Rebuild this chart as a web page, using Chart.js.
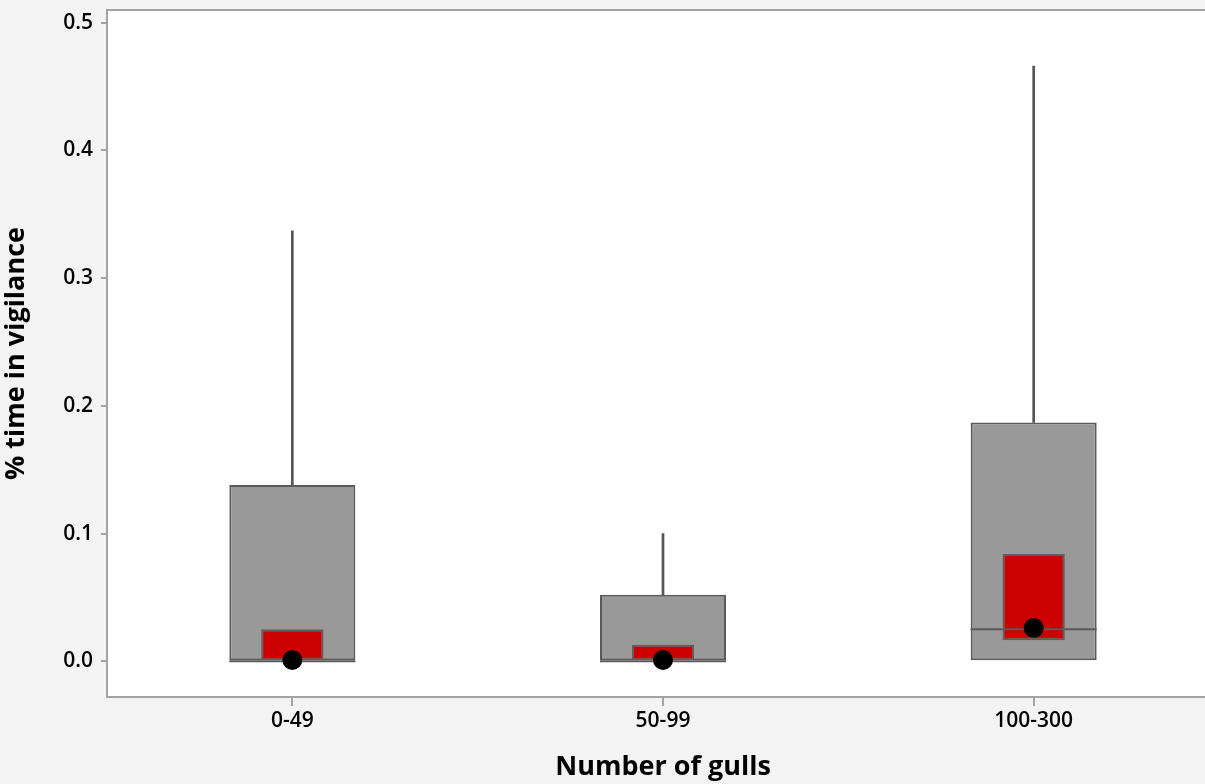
<!DOCTYPE html>
<html>
<head>
<meta charset="utf-8">
<script src="https://cdn.jsdelivr.net/npm/chart.js@4"></script>
<style>
  html, body { margin: 0; padding: 0; background: #f3f3f3; overflow: hidden; }
  #wrap { width: 1229px; height: 784px; }
</style>
</head>
<body>
<div id="wrap"><canvas id="c" width="1229" height="784"></canvas></div>
<script>
'use strict';

/* ── data ── */
var groups  = ['0-49', '50-99', '100-300'];
var q1      = [0.0,   0.0,   0.0];
var q3      = [0.138, 0.052, 0.187];
var maxV    = [0.337, 0.100, 0.466];
var medians = [0.0,   0.0,   0.025];
var ciLow   = [0.0,   0.0,   0.0165];
var ciHigh  = [0.025, 0.013, 0.084];
var means   = [0.001, 0.001, 0.026];
var yTicks  = [0.0, 0.1, 0.2, 0.3, 0.4, 0.5];

var TICK_FONT  = { family: '"Open Sans", sans-serif', size: 21, weight: '600' };
var TITLE_FONT = { family: '"Open Sans", sans-serif', size: 27, weight: 'bold' };

/* white plot area + grey frame */
var framePlugin = {
  id: 'frame',
  beforeDatasetsDraw: function(chart){
    var a = chart.chartArea, ctx = chart.ctx;
    ctx.save();
    ctx.fillStyle = '#ffffff';
    ctx.fillRect(a.left, a.top, a.right - a.left, a.bottom - a.top);
    ctx.restore();
  },
  afterDraw: function(chart){
    var a = chart.chartArea, ctx = chart.ctx;
    ctx.save();
    ctx.strokeStyle = '#a3a3a3';
    ctx.lineWidth = 2;
    ctx.strokeRect(a.left, a.top, a.right - a.left, a.bottom - a.top);
    ctx.restore();
  }
};

/* median lines, drawn just under the dots */
var medianPlugin = {
  id: 'medians',
  beforeDatasetDraw: function(chart, args){
    if(args.index !== 3) return;
    var ctx = chart.ctx, y = chart.scales.y, boxes = chart.getDatasetMeta(0).data;
    ctx.save();
    ctx.strokeStyle = '#5a5a5a';
    ctx.lineWidth = 2;
    medians.forEach(function(m, i){
      var b = boxes[i], py = y.getPixelForValue(m);
      ctx.beginPath();
      ctx.moveTo(b.x - b.width / 2, py);
      ctx.lineTo(b.x + b.width / 2, py);
      ctx.stroke();
    });
    ctx.restore();
  }
};

new Chart(document.getElementById('c'), {
  type: 'bar',
  data: {
    labels: groups,
    datasets: [
      {
        label: 'IQR',
        data: q1.map(function(v, i){ return [v, q3[i]]; }),
        backgroundColor: '#999999',
        borderColor: '#5a5a5a',
        borderWidth: 2,
        borderSkipped: false,
        barPercentage: 0.34,
        categoryPercentage: 1,
        grouped: false,
        order: 4
      },
      {
        label: 'whisker',
        data: q3.map(function(v, i){ return [v, maxV[i]]; }),
        backgroundColor: '#555555',
        borderWidth: 0,
        barThickness: 2,
        grouped: false,
        order: 5
      },
      {
        label: 'median CI',
        data: ciLow.map(function(v, i){ return [v, ciHigh[i]]; }),
        backgroundColor: '#cc0000',
        borderColor: '#5f5f5f',
        borderWidth: 2,
        borderSkipped: false,
        barPercentage: 0.168,
        categoryPercentage: 1,
        grouped: false,
        order: 2
      },
      {
        type: 'line',
        label: 'mean',
        data: means,
        showLine: false,
        pointRadius: 10,
        pointBackgroundColor: '#000000',
        pointBorderWidth: 0,
        order: 0
      }
    ]
  },
  options: {
    responsive: false,
    animation: false,
    events: [],
    layout: { padding: { top: 10, right: 3, left: 0, bottom: 0 } },
    plugins: { legend: { display: false }, tooltip: { enabled: false } },
    scales: {
      x: {
        type: 'category',
        offset: true,
        grid: { offset: false, drawOnChartArea: false, drawTicks: true, tickLength: 9, color: '#a3a3a3', lineWidth: 2 },
        border: { display: false },
        ticks: { color: '#000', font: TICK_FONT, padding: 2, maxRotation: 0 },
        title: { display: true, text: 'Number of gulls', color: '#000', font: TITLE_FONT, padding: { top: 4, bottom: 0 } },
        afterFit: function(s){ s.height = 87; s.paddingLeft = 0; s.paddingRight = 0; }
      },
      y: {
        min: -0.028,
        max: 0.51,
        afterBuildTicks: function(s){ s.ticks = yTicks.map(function(v){ return { value: v }; }); },
        grid: { drawOnChartArea: false, drawTicks: true, tickLength: 6, color: '#a3a3a3', lineWidth: 2 },
        border: { display: false },
        ticks: { color: '#000', font: TICK_FONT, padding: 8, callback: function(v){ return Number(v).toFixed(1); } },
        title: { display: true, text: '% time in vigilance', color: '#000', font: TITLE_FONT, padding: { top: 0, bottom: 0 } },
        afterFit: function(s){ s.width = 107; s.paddingTop = 0; s.paddingBottom = 0; }
      }
    }
  },
  plugins: [framePlugin, medianPlugin]
});
</script>
</body>
</html>
